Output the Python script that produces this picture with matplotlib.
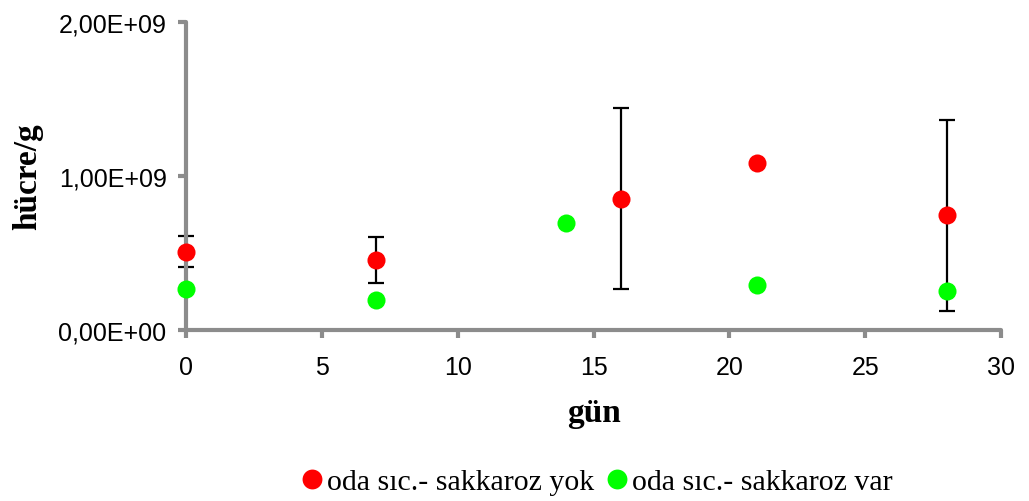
import matplotlib
matplotlib.use("Agg")
import matplotlib.pyplot as plt
from matplotlib.ticker import FuncFormatter

days_yok = [0, 7, 16, 21, 28]
vals_yok = [0.507e9, 0.452e9, 0.85e9, 1.08e9, 0.742e9]
err_yok = [0.10e9, 0.148e9, 0.588e9, 0.0, 0.618e9]

days_var = [0, 7, 14, 21, 28]
vals_var = [0.267e9, 0.195e9, 0.69e9, 0.293e9, 0.252e9]

label_yok = "oda sıc.- sakkaroz yok"
label_var = "oda sıc.- sakkaroz var"

fig = plt.figure(figsize=(10.29, 5.02), dpi=100)
ax = fig.add_axes([0.1808, 0.3412, 0.7920, 0.6136])

gray = "#8c8c8c"
ax.errorbar(days_yok, vals_yok, yerr=err_yok, fmt="none", ecolor="black",
            elinewidth=1.6, capsize=6, capthick=1.6, zorder=2)
ax.plot(days_yok, vals_yok, "o", color="#ff0000", markersize=13, label=label_yok,
        zorder=3, markeredgewidth=0)
ax.plot(days_var, vals_var, "o", color="#00ff00", markersize=13, label=label_var,
        zorder=3, markeredgewidth=0)

ax.set_xlim(0, 30)
ax.set_ylim(0, 2e9)
ax.set_xticks([0, 5, 10, 15, 20, 25, 30])
ax.set_yticks([0, 1e9, 2e9])
ax.yaxis.set_major_formatter(FuncFormatter(
    lambda v, p: {0: "0,00E+00", 1: "1,00E+09", 2: "2,00E+09"}[int(round(v / 1e9))]))

for s in ["top", "right"]:
    ax.spines[s].set_visible(False)
for s in ["left", "bottom"]:
    ax.spines[s].set_color(gray)
    ax.spines[s].set_linewidth(3)
    ax.spines[s].set_capstyle("round")
    ax.spines[s].set_clip_on(False)
ax.tick_params(axis="both", direction="out", length=6, width=3, color=gray,
               labelsize=18)
ax.tick_params(axis="x", pad=12)
ax.tick_params(axis="y", pad=8)
for lab in ax.get_xticklabels() + ax.get_yticklabels():
    lab.set_fontfamily("Liberation Sans")
for line in ax.get_lines():
    line.set_clip_on(False)

ax.set_xlabel("gün", fontfamily="Liberation Serif", fontweight="bold", fontsize=24, labelpad=13)
ax.set_ylabel("hücre/g", fontfamily="Liberation Serif", fontweight="bold", fontsize=24, labelpad=11)

leg = fig.legend(loc="center", bbox_to_anchor=(0.578, 0.038), ncol=2, frameon=False,
                 prop={"family": "Liberation Serif", "size": 21.5},
                 handletextpad=0.0, columnspacing=0.25, handlelength=1.0, markerscale=1.1)

fig.savefig("out.png", dpi=100)
